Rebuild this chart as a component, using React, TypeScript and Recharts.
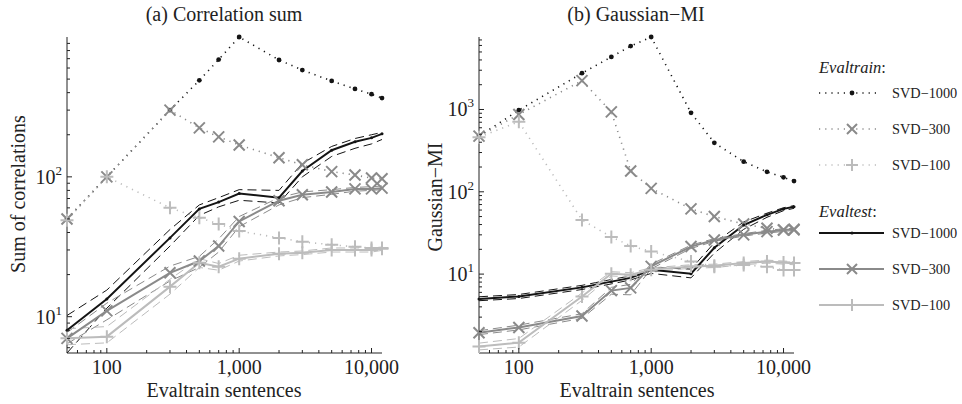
import React from 'react';
import { LineChart, Line, XAxis, YAxis } from 'recharts';

const SERIF = '"Liberation Serif", "Times New Roman", Times, "DejaVu Serif", serif';
const BLACK = '#141414';
const MID = '#8a8a8a';
const LIGHT = '#bcbcbc';

// x values (number of evaltrain sentences)
const sentences = [50, 100, 300, 500, 700, 1000, 2000, 3000, 5000, 7500, 10000, 12000];

// (a) Correlation sum
const trainA1000 = [50, 100, 300, 490, 690, 1000, 685, 580, 485, 425, 390, 366];
const trainA300 = [50, 100, 300, 224, 193, 169, 137, 122, 109, 103, 98, 97];
const trainA100 = [49, 100, 60, 51, 46, 41, 36.6, 34.3, 32.7, 31.6, 31, 31];
const testA1000 = [8.0, 13.4, 36.6, 59, 66, 76, 71, 110, 155, 178, 190, 203];
const testA1000hi = [10.2, 15.5, 42, 63, 71, 81, 80, 125, 165, 188, 200, 208];
const testA1000lo = [5.5, 11.5, 32, 53, 61, 68, 65, 100, 140, 160, 172, 185];
const testA300 = [7.0, 11, 20.6, 25, 32, 48, 67.5, 74.5, 78, 82, 82, 83];
const testA300hi = [7.7, 12.5, 23, 27, 36, 52, 71, 78, 81, 84, 85, 86];
const testA300lo = [6.4, 9.5, 18, 22.5, 29, 44, 63, 71, 75, 79, 80, 81];
const testA100 = [7.0, 7.2, 16.4, 24.3, 22.8, 26, 28.2, 28.6, 30, 30, 30, 30.6];
const testA100hi = [8.2, 8.5, 18.5, 26, 24, 27.5, 29, 29.5, 31, 31, 31, 31.5];
const testA100lo = [6.3, 6.5, 14.5, 22.5, 21.5, 25, 27.2, 27.8, 29, 29, 29, 29.8];

// (b) Gaussian-MI
const trainB1000 = [475, 980, 2760, 4350, 5900, 7600, 910, 394, 232, 175, 150, 135];
const trainB300 = [475, 870, 2240, 935, 179, 110, 62, 50, 40.7, 36, 34.5, 34.5];
const trainB100 = [460, 710, 45.5, 28.3, 22, 18.8, 14.2, 12.3, 12.9, 12.3, 11.2, 11.2];
const testB1000 = [5.0, 5.35, 6.9, 8.1, 9.0, 11.3, 10.1, 20.9, 39.5, 52.5, 62, 66];
const testB1000hi = [5.3, 5.65, 7.3, 8.6, 9.5, 12, 11.5, 24, 43, 55, 64, 68];
const testB1000lo = [4.75, 5.05, 6.5, 7.6, 8.5, 10.2, 9.0, 18, 35, 49, 59, 63];
const testB300 = [1.94, 2.25, 3.1, 6.3, 6.8, 12.4, 21.6, 26, 30, 32.8, 34.4, 35];
const testB300hi = [2.05, 2.4, 3.3, 6.9, 7.5, 13.2, 22.5, 27, 31, 34, 35.5, 36];
const testB300lo = [1.84, 2.1, 2.9, 5.7, 5.6, 11.6, 20.5, 25, 29, 31.5, 33, 34];
const testB100 = [1.32, 1.47, 5.35, 10.1, 9.8, 11.3, 12.4, 12.6, 13.6, 14.2, 13.8, 13.6];
const testB100hi = [1.45, 1.65, 5.9, 10.7, 10.4, 11.9, 13, 13.2, 14.2, 14.8, 14.4, 14.2];
const testB100lo = [1.2, 1.3, 4.8, 9.5, 9.2, 10.7, 11.8, 12, 13, 13.6, 13.2, 13];

const xTicks = [60, 70, 80, 90, 100, 200, 300, 400, 500, 600, 700, 800, 900, 1000, 2000, 3000, 4000, 5000, 6000, 7000, 8000, 9000, 10000];
const yTicksA = [6, 7, 8, 9, 10, 20, 30, 40, 50, 60, 70, 80, 90, 100, 200, 300, 400, 500, 600, 700, 800, 900];
const yTicksB = [2, 3, 4, 5, 6, 7, 8, 9, 10, 20, 30, 40, 50, 60, 70, 80, 90, 100, 200, 300, 400, 500, 600, 700, 800, 900, 1000, 2000, 3000, 4000, 5000, 6000, 7000];

function buildRows(cols: Record<string, number[]>) {
  return sentences.map((s, i) => {
    const row: Record<string, number> = { n: s };
    Object.keys(cols).forEach((k) => (row[k] = cols[k][i]));
    return row;
  });
}

const rowsA = buildRows({
  tr1000: trainA1000, tr300: trainA300, tr100: trainA100,
  te1000: testA1000, te1000hi: testA1000hi, te1000lo: testA1000lo,
  te300: testA300, te300hi: testA300hi, te300lo: testA300lo,
  te100: testA100, te100hi: testA100hi, te100lo: testA100lo,
});
const rowsB = buildRows({
  tr1000: trainB1000, tr300: trainB300, tr100: trainB100,
  te1000: testB1000, te1000hi: testB1000hi, te1000lo: testB1000lo,
  te300: testB300, te300hi: testB300hi, te300lo: testB300lo,
  te100: testB100, te100hi: testB100hi, te100lo: testB100lo,
});

const isMajor = (v: number) => Math.abs(Math.log10(v) - Math.round(Math.log10(v))) < 1e-9;

function XTick(props: any) {
  const { x, y, payload } = props;
  const v = payload.value as number;
  const major = isMajor(v);
  return (
    <g>
      <line x1={x} x2={x} y1={y} y2={y - (major ? 5 : 3)} stroke="#222" strokeWidth={1} />
      {major && (
        <text x={x} y={y + 21} textAnchor="middle" fontSize={20} fill="#222" style={{ fontFamily: SERIF }}>
          {v.toLocaleString('en-US')}
        </text>
      )}
    </g>
  );
}

function YTick(props: any) {
  const { x, y, payload } = props;
  const v = payload.value as number;
  const major = isMajor(v);
  return (
    <g>
      <line x1={x} x2={x + (major ? 5 : 3)} y1={y} y2={y} stroke="#222" strokeWidth={1} />
      {major && (
        <text x={x - 5} y={y + 7} textAnchor="end" fontSize={20} fill="#222" style={{ fontFamily: SERIF }}>
          10
          <tspan dy={-9} fontSize={13}>{Math.round(Math.log10(v))}</tspan>
        </text>
      )}
    </g>
  );
}

const dotMark = (r: number, color: string) => (p: any) =>
  p.cx == null ? <g key={p.index} /> : <circle key={p.index} cx={p.cx} cy={p.cy} r={r} fill={color} />;

const xMark = (s: number, color: string) => (p: any) =>
  p.cx == null ? <g key={p.index} /> : (
    <path key={p.index} d={`M${p.cx - s},${p.cy - s}L${p.cx + s},${p.cy + s}M${p.cx + s},${p.cy - s}L${p.cx - s},${p.cy + s}`}
      stroke={color} strokeWidth={2} fill="none" />
  );

const plusMark = (s: number, color: string) => (p: any) =>
  p.cx == null ? <g key={p.index} /> : (
    <path key={p.index} d={`M${p.cx - s},${p.cy}L${p.cx + s},${p.cy}M${p.cx},${p.cy - s}L${p.cx},${p.cy + s}`}
      stroke={color} strokeWidth={2} fill="none" />
  );

const DOTTED = '1.2 5';
const DASHED = '9 5';

function Panel({ rows, yDomain, yTicks, yWidth, left }: { rows: any[]; yDomain: [number, number]; yTicks: number[]; yWidth: number; left: number }) {
  return (
    <div style={{ position: 'absolute', left, top: 0 }}>
      <LineChart width={410} height={404} data={rows} margin={{ top: 37, right: left === 0 ? 28 : 26, bottom: 0, left: 0 }}>
        <XAxis dataKey="n" type="number" scale="log" domain={[50, 12000]} ticks={xTicks} tick={<XTick />}
          tickSize={0} tickMargin={0} tickLine={false} height={51} axisLine={{ stroke: '#222' }} interval={0} />
        <YAxis type="number" scale="log" domain={yDomain} ticks={yTicks} tick={<YTick />}
          tickSize={0} tickMargin={0} tickLine={false} width={yWidth} axisLine={{ stroke: '#222' }} interval={0} />
        {/* evaltrain */}
        <Line dataKey="tr1000" stroke={BLACK} strokeWidth={1.6} strokeDasharray={DOTTED} dot={dotMark(2.4, BLACK)} isAnimationActive={false} />
        <Line dataKey="tr300" stroke={MID} strokeWidth={1.6} strokeDasharray={DOTTED} dot={xMark(5.5, MID)} isAnimationActive={false} />
        <Line dataKey="tr100" stroke={LIGHT} strokeWidth={1.6} strokeDasharray={DOTTED} dot={plusMark(6.5, LIGHT)} isAnimationActive={false} />
        {/* evaltest bands */}
        <Line dataKey="te1000hi" stroke={BLACK} strokeWidth={1} strokeDasharray={DASHED} dot={false} isAnimationActive={false} />
        <Line dataKey="te1000lo" stroke={BLACK} strokeWidth={1} strokeDasharray={DASHED} dot={false} isAnimationActive={false} />
        <Line dataKey="te300hi" stroke={MID} strokeWidth={1} strokeDasharray={DASHED} dot={false} isAnimationActive={false} />
        <Line dataKey="te300lo" stroke={MID} strokeWidth={1} strokeDasharray={DASHED} dot={false} isAnimationActive={false} />
        <Line dataKey="te100hi" stroke={LIGHT} strokeWidth={1} strokeDasharray={DASHED} dot={false} isAnimationActive={false} />
        <Line dataKey="te100lo" stroke={LIGHT} strokeWidth={1} strokeDasharray={DASHED} dot={false} isAnimationActive={false} />
        {/* evaltest */}
        <Line dataKey="te1000" stroke={BLACK} strokeWidth={2} dot={dotMark(1.5, BLACK)} isAnimationActive={false} />
        <Line dataKey="te300" stroke={MID} strokeWidth={2} dot={xMark(5.5, MID)} isAnimationActive={false} />
        <Line dataKey="te100" stroke={LIGHT} strokeWidth={2} dot={plusMark(6.5, LIGHT)} isAnimationActive={false} />
      </LineChart>
    </div>
  );
}

const legendItems = [
  { label: 'SVD\u22121000', color: BLACK, mark: 'dot' },
  { label: 'SVD\u2212300', color: MID, mark: 'x' },
  { label: 'SVD\u2212100', color: LIGHT, mark: 'plus' },
];

function LegendMark({ kind, color, cx, cy, big }: { kind: string; color: string; cx: number; cy: number; big: boolean }) {
  if (kind === 'dot') return <circle cx={cx} cy={cy} r={big ? 2.4 : 1.6} fill={color} />;
  if (kind === 'x') return <path d={`M${cx - 5},${cy - 5}L${cx + 5},${cy + 5}M${cx + 5},${cy - 5}L${cx - 5},${cy + 5}`} stroke={color} strokeWidth={2} />;
  return <path d={`M${cx - 6},${cy}L${cx + 6},${cy}M${cx},${cy - 6}L${cx},${cy + 6}`} stroke={color} strokeWidth={2} />;
}

export default function App() {
  return (
    <div style={{ position: 'absolute', left: 0, top: 0, width: 962, height: 404, background: '#fff', fontFamily: SERIF }}>
      <Panel rows={rowsA} yDomain={[5.5, 1000]} yTicks={yTicksA} yWidth={67} left={0} />
      <Panel rows={rowsB} yDomain={[1.1, 7600]} yTicks={yTicksB} yWidth={69} left={410} />
      <svg width={962} height={404} style={{ position: 'absolute', left: 0, top: 0, pointerEvents: 'none', fontFamily: SERIF }}>
        <g fill="#222" fontSize={20}>
          <text x={224} y={21} textAnchor="middle">(a) Correlation sum</text>
          <text x={636} y={21} textAnchor="middle">(b) Gaussian{'\u2212'}MI</text>
          <text x={224} y={397} textAnchor="middle">Evaltrain sentences</text>
          <text x={637} y={397} textAnchor="middle">Evaltrain sentences</text>
          <text transform="translate(25,194) rotate(-90)" textAnchor="middle">Sum of correlations</text>
          <text transform="translate(442,197) rotate(-90)" textAnchor="middle">Gaussian{'\u2212'}MI</text>
        </g>
        <g fill="#222" fontSize={14.3}>
          <text x={819} y={73} fontSize={16.5}><tspan fontStyle="italic">Evaltrain</tspan>:</text>
          {legendItems.map((d, i) => {
            const y = 93 + i * 36;
            return (
              <g key={'tr' + d.label}>
                <line x1={819} x2={880} y1={y} y2={y} stroke={d.color} strokeWidth={1.6} strokeDasharray={DOTTED} />
                <LegendMark kind={d.mark} color={d.color} cx={852} cy={y} big />
                <text x={892} y={y + 5}>{d.label}</text>
              </g>
            );
          })}
          <text x={819} y={217} fontSize={16.5}><tspan fontStyle="italic">Evaltest</tspan>:</text>
          {legendItems.map((d, i) => {
            const y = 233 + i * 36;
            return (
              <g key={'te' + d.label}>
                <line x1={819} x2={884} y1={y} y2={y} stroke={d.color} strokeWidth={2} />
                <LegendMark kind={d.mark} color={d.color} cx={852} cy={y} big={false} />
                <text x={892} y={y + 5}>{d.label}</text>
              </g>
            );
          })}
        </g>
      </svg>
    </div>
  );
}
